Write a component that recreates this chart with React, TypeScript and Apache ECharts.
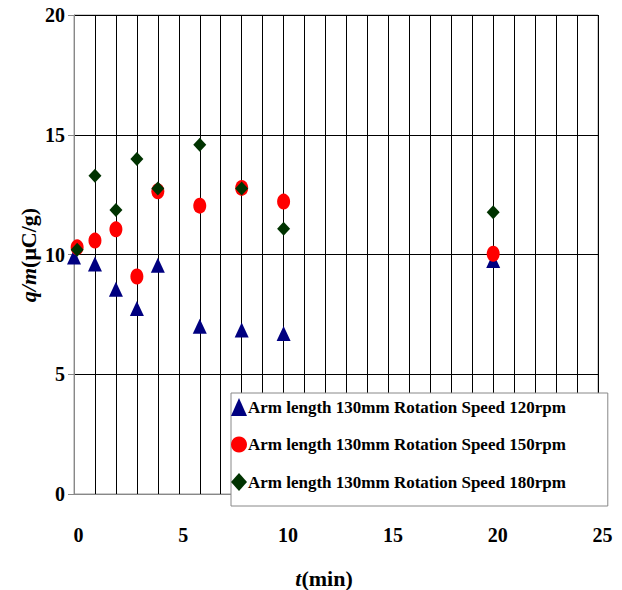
import React, { useEffect, useRef } from "react";
import * as echarts from "echarts";

const seriesNames = [
  "Arm length 130mm Rotation Speed 120rpm",
  "Arm length 130mm Rotation Speed 150rpm",
  "Arm length 130mm Rotation Speed 180rpm",
];
const tRpm120 = [0, 1, 2, 3, 4, 6, 8, 10, 20];
const qRpm120 = [9.9, 9.6, 8.55, 7.75, 9.55, 7.0, 6.85, 6.7, 9.75];
const tRpm150 = [0.15, 1, 2, 3, 4, 6, 8, 10, 20];
const qRpm150 = [10.3, 10.58, 11.05, 9.08, 12.64, 12.04, 12.78, 12.21, 10.03];
const tRpm180 = [0.15, 1, 2, 3, 4, 6, 8, 10, 20];
const qRpm180 = [10.2, 13.29, 11.86, 13.99, 12.76, 14.58, 12.76, 11.07, 11.76];
const xTickLabels = ["0", "5", "10", "15", "20", "25"];

const pair = (xs: number[], ys: number[]) => xs.map((x, i) => [x, ys[i]]);

const FONT = "'Liberation Serif', 'Times New Roman', serif";

export default function App() {
  const ref = useRef<HTMLDivElement>(null);
  useEffect(() => {
    if (!ref.current) return;
    const chart = echarts.init(ref.current, undefined, { renderer: "svg" });
    chart.setOption({
      animation: false,
      backgroundColor: "#fff",
      grid: {
        left: 74,
        top: 15,
        width: 524,
        height: 479,
        show: true,
        borderColor: "#999",
        borderWidth: 1,
        backgroundColor: "transparent",
      },
      xAxis: {
        type: "value",
        min: 0,
        max: 25,
        interval: 1,
        axisLine: { show: true, lineStyle: { color: "#888", width: 1 } },
        axisTick: { show: false },
        splitLine: { show: true, lineStyle: { color: "#000", width: 1 } },
        axisLabel: {
          margin: 31,
          padding: [0, 0, 0, 9],
          color: "#000",
          fontFamily: FONT,
          fontWeight: "bold",
          fontSize: 20,
          formatter: (v: number) =>
            xTickLabels.includes(String(v)) ? String(v) : "",
        },
      },
      yAxis: {
        type: "value",
        min: 0,
        max: 20,
        interval: 5,
        axisLine: { show: true, lineStyle: { color: "#888", width: 1 } },
        axisTick: { show: true, length: 6, lineStyle: { color: "#888" } },
        splitLine: { show: true, lineStyle: { color: "#000", width: 1 } },
        axisLabel: {
          margin: 9,
          color: "#000",
          fontFamily: FONT,
          fontWeight: "bold",
          fontSize: 20,
        },
      },
      legend: {
        orient: "vertical",
        left: 231,
        top: 393,
        padding: [5, 42, 15, 0],
        itemGap: 20,
        itemWidth: 16,
        itemHeight: 18,
        backgroundColor: "#fff",
        borderColor: "#888",
        borderWidth: 1,
        borderRadius: 0,
        data: seriesNames,
        textStyle: {
          color: "#000",
          fontFamily: FONT,
          fontWeight: "bold",
          fontSize: 17,
          padding: [0, 0, 0, -4],
        },
      },
      graphic: [
        {
          type: "text",
          x: 28,
          y: 255,
          rotation: Math.PI / 2,
          style: {
            text: "{i|q/m}(μC/g)",
            fill: "#000",
            font: `bold 22px ${FONT}`,
            align: "center",
            verticalAlign: "middle",
            rich: {
              i: { fontStyle: "italic", fontWeight: "bold", fontSize: 22, fontFamily: FONT, fill: "#000" },
            },
          },
        },
        {
          type: "text",
          x: 324,
          y: 578,
          style: {
            text: "{i|t}(min)",
            fill: "#000",
            font: `bold 22px ${FONT}`,
            align: "center",
            verticalAlign: "middle",
            rich: {
              i: { fontStyle: "italic", fontWeight: "bold", fontSize: 22, fontFamily: FONT, fill: "#000" },
            },
          },
        },
      ],
      series: [
        {
          name: seriesNames[0],
          type: "scatter",
          symbol: "triangle",
          symbolSize: [14, 15],
          itemStyle: { color: "#000080", opacity: 1 },
          data: pair(tRpm120, qRpm120),
          z: 3,
        },
        {
          name: seriesNames[1],
          type: "scatter",
          symbol: "circle",
          symbolSize: [13, 16],
          itemStyle: { color: "#ff0000", opacity: 1 },
          data: pair(tRpm150, qRpm150),
          z: 4,
        },
        {
          name: seriesNames[2],
          type: "scatter",
          symbol: "diamond",
          symbolSize: [13, 14],
          itemStyle: { color: "#003300", opacity: 1 },
          data: pair(tRpm180, qRpm180),
          z: 5,
        },
      ],
    });
    return () => chart.dispose();
  }, []);
  return <div ref={ref} style={{ width: 622, height: 590, position: "absolute", left: 0, top: 0 }} />;
}
